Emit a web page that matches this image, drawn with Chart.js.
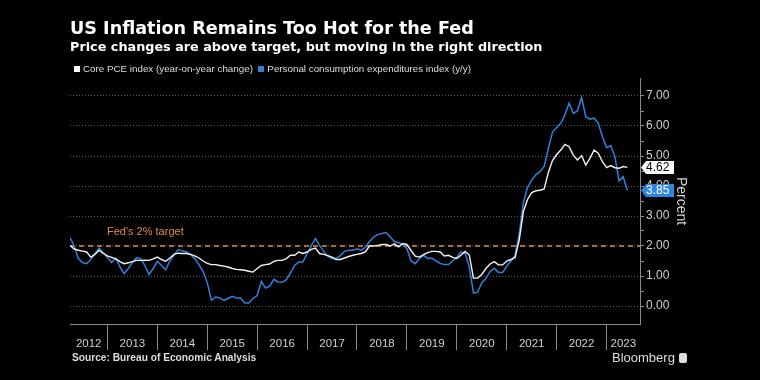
<!DOCTYPE html>
<html lang="en">
<head>
    <meta charset="UTF-8">
    <title>US Inflation Remains Too Hot for the Fed</title>
    <style>
        body {
            margin: 0;
            background-color: #000;
            font-family: 'Liberation Sans', Arial, sans-serif;
        }
        .wrap {
            position: relative;
            width: 760px;
            height: 380px;
            overflow: hidden;
            background-color: #000;
        }
        .wrap div {
            position: absolute;
            white-space: nowrap;
            line-height: 1;
        }
        .title {
            left: 70px;
            top: 19.5px;
            font-family: 'DejaVu Sans', sans-serif;
            font-size: 17.6px;
            font-weight: 700;
            color: #fff;
        }
        .subtitle {
            left: 70px;
            top: 41px;
            font-family: 'DejaVu Sans', sans-serif;
            font-size: 12.8px;
            font-weight: 700;
            color: #fff;
        }
        .legend {
            left: 74px;
            top: 64px;
            font-size: 9.8px;
            color: #ddd;
        }
        .sw {
            display: inline-block;
            width: 6px;
            height: 6px;
            margin-right: 3px;
        }
        .source {
            left: 72px;
            top: 353px;
            font-size: 10.2px;
            font-weight: 700;
            color: #ddd;
        }
        .brand {
            left: 612px;
            top: 351px;
            font-size: 13px;
            color: #ddd;
        }
        .logo {
            display: inline-block;
            width: 8px;
            height: 10px;
            margin-left: 4px;
            background: #ddd;
            border-radius: 2px;
            vertical-align: -1px;
        }
        canvas {
            position: absolute;
            left: 0;
            top: 0;
        }
    </style>
</head>
<body>
    <div class="wrap">
        <canvas id="chart" width="760" height="380"></canvas>
        <div class="title">US Inflation Remains Too Hot for the Fed</div>
        <div class="subtitle">Price changes are above target, but moving in the right direction</div>
        <div class="legend"><span class="sw" style="background:#fff"></span>Core PCE index (year-on-year change)&nbsp;&nbsp;<span class="sw" style="background:#2f80d8"></span>Personal consumption expenditures index (y/y)</div>
        <div class="source">Source: Bureau of Economic Analysis</div>
        <div class="brand">Bloomberg<span class="logo"></span></div>
    </div>
    <script src="https://cdn.jsdelivr.net/npm/chart.js"></script>
    <script>
        // monthly data, first point is March 2012, last is May 2023
        const startYear = 2012;
        const startMonth = 3;

        const corePce = [
            2.02, 1.90, 1.86, 1.83, 1.80, 1.63, 1.72, 1.86, 1.75, 1.67,
            1.62, 1.57, 1.48, 1.41, 1.44, 1.48, 1.52, 1.52, 1.53, 1.52, 1.57, 1.63,
            1.55, 1.49, 1.60, 1.72, 1.76, 1.75, 1.75, 1.72, 1.67, 1.60, 1.50, 1.42,
            1.38, 1.38, 1.35, 1.33, 1.30, 1.25, 1.22, 1.21, 1.19, 1.16, 1.13, 1.25,
            1.35, 1.38, 1.40, 1.49, 1.52, 1.52, 1.58, 1.69, 1.69, 1.80, 1.75, 1.80,
            1.89, 1.93, 1.75, 1.72, 1.68, 1.63, 1.55, 1.55, 1.60, 1.65, 1.69, 1.72,
            1.75, 1.80, 2.00, 2.00, 2.02, 2.05, 2.05, 2.00, 2.07, 1.97, 2.08, 2.05,
            1.85, 1.66, 1.63, 1.71, 1.78, 1.82, 1.82, 1.80, 1.67, 1.69, 1.62, 1.58,
            1.69, 1.82, 1.70, 0.93, 0.93, 1.05, 1.25, 1.40, 1.48, 1.37, 1.37, 1.50,
            1.55, 1.62, 2.20, 3.15, 3.55, 3.78, 3.84, 3.86, 3.90, 4.45, 4.85, 5.05,
            5.20, 5.39, 5.31, 5.03, 4.87, 5.01, 4.70, 4.92, 5.20, 5.09, 4.81, 4.61,
            4.68, 4.61, 4.59, 4.65, 4.62
        ];

        const headlinePce = [
            2.28, 2.00, 1.58, 1.45, 1.41, 1.55, 1.75, 1.93, 1.78, 1.62,
            1.45, 1.60, 1.30, 1.08, 1.25, 1.45, 1.61, 1.58, 1.35, 1.05, 1.25, 1.49,
            1.35, 1.21, 1.50, 1.70, 1.88, 1.84, 1.80, 1.71, 1.58, 1.38, 1.15, 0.78,
            0.19, 0.30, 0.27, 0.19, 0.25, 0.32, 0.27, 0.27, 0.10, 0.10, 0.25, 0.35,
            0.82, 0.60, 0.66, 0.89, 0.80, 0.79, 0.88, 1.10, 1.35, 1.47, 1.47, 1.75,
            2.00, 2.25, 2.02, 1.82, 1.65, 1.58, 1.58, 1.68, 1.82, 1.86, 1.86, 1.91,
            1.86, 1.95, 2.15, 2.30, 2.38, 2.42, 2.45, 2.30, 2.15, 2.11, 2.05, 1.91,
            1.50, 1.41, 1.58, 1.69, 1.58, 1.60, 1.50, 1.42, 1.38, 1.38, 1.50, 1.63,
            1.80, 1.75, 1.30, 0.43, 0.46, 0.78, 0.92, 1.15, 1.26, 1.12, 1.12, 1.32,
            1.50, 1.68, 2.40, 3.45, 3.95, 4.20, 4.37, 4.48, 4.65, 5.25, 5.80, 5.95,
            6.09, 6.38, 6.76, 6.42, 6.50, 6.95, 6.31, 6.23, 6.26, 6.10, 5.65, 5.28,
            5.35, 4.98, 4.17, 4.31, 3.85
        ];

        const yearLabels = ['2012', '2013', '2014', '2015', '2016', '2017', '2018', '2019', '2020', '2021', '2022', '2023'];
        const yTickValues = [0, 0.5, 1, 1.5, 2, 2.5, 3, 3.5, 4, 4.5, 5, 5.5, 6, 6.5, 7];
        const fedTarget = 2;
        const targetLabel = "Fed's 2% target";
        const axisTitle = 'Percent';

        const xMin = 2012.25;
        const xMax = 2023.67;
        const yMin = -0.6;
        const yMax = 7.6;

        const whiteLine = '#f2f2f2';
        const blueLine = '#2f80d8';
        const orange = '#e08a3c';

        function monthX(i) {
            const m = startMonth + i;
            return startYear + m / 12;
        }

        const corePoints = corePce.map((v, i) => ({ x: monthX(i), y: v }));
        const headlinePoints = headlinePce.map((v, i) => ({ x: monthX(i), y: v }));

        const extras = {
            id: 'extras',
            afterDraw(chart) {
                const ctx = chart.ctx;
                const xs = chart.scales.x;
                const ys = chart.scales.y;
                const area = chart.chartArea;
                ctx.save();

                // year labels centred in the visible part of each year
                ctx.font = '11.5px "Liberation Sans", Arial, sans-serif';
                ctx.fillStyle = '#d0d0d0';
                ctx.textAlign = 'center';
                ctx.textBaseline = 'middle';
                yearLabels.forEach(label => {
                    const yr = parseInt(label);
                    const lo = Math.max(yr, xMin);
                    const hi = Math.min(yr + 1, xMax);
                    const cx = (xs.getPixelForValue(lo) + xs.getPixelForValue(hi)) / 2;
                    ctx.fillText(label, cx, area.bottom + 20);
                });

                // target label
                ctx.font = '11px "Liberation Sans", Arial, sans-serif';
                ctx.fillStyle = orange;
                ctx.textAlign = 'left';
                ctx.fillText(targetLabel, 107, ys.getPixelForValue(fedTarget) - 14);

                // last value tags
                const tags = [
                    { v: corePce[corePce.length - 1], bg: '#ffffff', fg: '#000000' },
                    { v: headlinePce[headlinePce.length - 1], bg: '#2f86e0', fg: '#ffffff' }
                ];
                ctx.font = '12px "Liberation Sans", Arial, sans-serif';
                tags.forEach(t => {
                    const y = ys.getPixelForValue(t.v);
                    const x0 = area.right + 1;
                    ctx.fillStyle = t.bg;
                    ctx.beginPath();
                    ctx.moveTo(x0, y);
                    ctx.lineTo(x0 + 5, y - 6.5);
                    ctx.lineTo(x0 + 33, y - 6.5);
                    ctx.lineTo(x0 + 33, y + 6.5);
                    ctx.lineTo(x0 + 5, y + 6.5);
                    ctx.closePath();
                    ctx.fill();
                    ctx.fillStyle = t.fg;
                    ctx.textAlign = 'left';
                    ctx.fillText(t.v.toFixed(2), x0 + 5, y + 0.5);
                });

                // axis title
                ctx.translate(area.right + 41, (area.top + area.bottom) / 2);
                ctx.rotate(Math.PI / 2);
                ctx.font = '14px "Liberation Sans", Arial, sans-serif';
                ctx.fillStyle = '#d0d0d0';
                ctx.textAlign = 'center';
                ctx.fillText(axisTitle, 0, 0);
                ctx.restore();
            }
        };

        new Chart(document.getElementById('chart'), {
            type: 'line',
            data: {
                datasets: [
                    {
                        label: 'Core PCE index (year-on-year change)',
                        data: corePoints,
                        borderColor: whiteLine,
                        borderWidth: 1.4,
                        pointRadius: 0,
                        tension: 0,
                        order: 0
                    },
                    {
                        label: 'Personal consumption expenditures index (y/y)',
                        data: headlinePoints,
                        borderColor: blueLine,
                        borderWidth: 1.5,
                        pointRadius: 0,
                        tension: 0,
                        order: 1
                    },
                    {
                        label: targetLabel,
                        data: [{ x: xMin, y: fedTarget }, { x: xMax, y: fedTarget }],
                        borderColor: orange,
                        borderWidth: 1.5,
                        borderDash: [5, 4],
                        pointRadius: 0,
                        order: 2
                    }
                ]
            },
            options: {
                responsive: false,
                animation: false,
                layout: {
                    padding: { left: 70, top: 78, right: 0, bottom: 0 }
                },
                plugins: {
                    legend: { display: false },
                    tooltip: { enabled: false }
                },
                scales: {
                    x: {
                        type: 'linear',
                        min: xMin,
                        max: xMax,
                        afterBuildTicks: scale => {
                            scale.ticks = yearLabels.slice(1).map(l => ({ value: parseInt(l) }));
                        },
                        afterFit: scale => { scale.height = 56; },
                        ticks: { display: false },
                        grid: {
                            drawOnChartArea: false,
                            drawTicks: true,
                            tickLength: 26,
                            tickColor: '#8a8a8a',
                            tickWidth: 1
                        },
                        border: { display: true, color: '#8a8a8a', width: 1 }
                    },
                    y: {
                        position: 'right',
                        min: yMin,
                        max: yMax,
                        afterBuildTicks: scale => {
                            scale.ticks = yTickValues.map(v => ({ value: v }));
                        },
                        afterFit: scale => { scale.width = 120; },
                        ticks: {
                            color: '#d0d0d0',
                            padding: 2,
                            font: { family: '"Liberation Sans", Arial, sans-serif', size: 12 },
                            callback: v => (v % 1 === 0 ? v.toFixed(2) : '')
                        },
                        grid: {
                            color: c => (c.tick && c.tick.value % 1 === 0 ? '#5a5a5a' : 'rgba(0,0,0,0)'),
                            lineWidth: 1,
                            tickLength: 4,
                            tickColor: '#8a8a8a',
                            tickBorderDash: []
                        },
                        border: { display: true, color: '#8a8a8a', width: 1, dash: [1, 2] }
                    }
                }
            },
            plugins: [extras]
        });
    </script>
</body>
</html>
